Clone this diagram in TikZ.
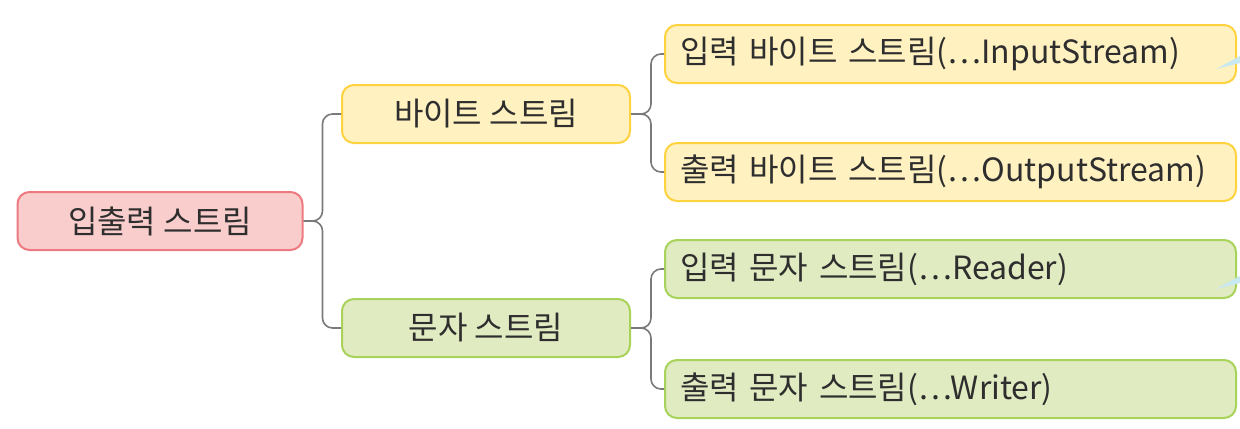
\documentclass[tikz,border=0pt]{standalone}
\usepackage{fontspec}
\setmainfont{Noto Sans CJK KR}
\usepackage{tikz}

\definecolor{rootfill}{HTML}{F9CDCB}
\definecolor{rootline}{HTML}{EC7A80}
\definecolor{bytefill}{HTML}{FFF1C0}
\definecolor{byteline}{HTML}{FFD23F}
\definecolor{charfill}{HTML}{E1EBC1}
\definecolor{charline}{HTML}{A8D35B}
\definecolor{linkgray}{HTML}{7A7A7A}
\definecolor{wedgeblue}{HTML}{C8E8F2}
\definecolor{txt}{HTML}{2E2E2E}

\begin{document}
\begin{tikzpicture}[x=0.5pt,y=-0.5pt,
        box/.style={draw,line width=1pt,rounded corners=6pt,text=txt,
            font=\fontsize{16}{19}\selectfont,inner sep=0pt,minimum height=29pt},
        rootbox/.style={box,fill=rootfill,draw=rootline,minimum width=142.5pt},
        midbox/.style={box,minimum width=144pt},
        leafbox/.style={box,text width=270.5pt,align=left,inner xsep=7.5pt},
        link/.style={draw=linkgray,line width=0.8pt,rounded corners=5pt}]
        \useasboundingbox (0,0) rectangle (1240,428);

        % root
        \node[rootbox] (io) at (160,221) {입출력 스트림};

        % byte / character streams
        \node[midbox,fill=bytefill,draw=byteline] (byte) at (486,114) {바이트 스트림};
        \node[midbox,fill=charfill,draw=charline] (char) at (486,328) {문자 스트림};

        % leaves
        \node[leafbox,fill=bytefill,draw=byteline] (bytein)  at (950.5,54)  {입력 바이트 스트림(…InputStream)};
        \node[leafbox,fill=bytefill,draw=byteline] (byteout) at (950.5,172) {출력 바이트 스트림(…OutputStream)};
        \node[leafbox,fill=charfill,draw=charline] (charin)  at (950.5,269) {입력 문자 스트림(…Reader)};
        \node[leafbox,fill=charfill,draw=charline] (charout) at (950.5,389) {출력 문자 스트림(…Writer)};

        % brackets
        \path[link] (io.east) -- ++(19,0) |- (byte.west);
        \path[link] (io.east) -- ++(19,0) |- (char.west);
        \path[link] (byte.east) -- ++(20,0) |- (bytein.west);
        \path[link] (byte.east) -- ++(20,0) |- (byteout.west);
        \path[link] (char.east) -- ++(20,0) |- (charin.west);
        \path[link] (char.east) -- ++(20,0) |- (charout.west);

        % cut-off callout tips at the right edge
        \fill[wedgeblue] (1216,69) -- (1240,56) -- (1240,63) -- cycle;
        \fill[wedgeblue] (1216,289) -- (1240,276) -- (1240,283) -- cycle;
\end{tikzpicture}
\end{document}
